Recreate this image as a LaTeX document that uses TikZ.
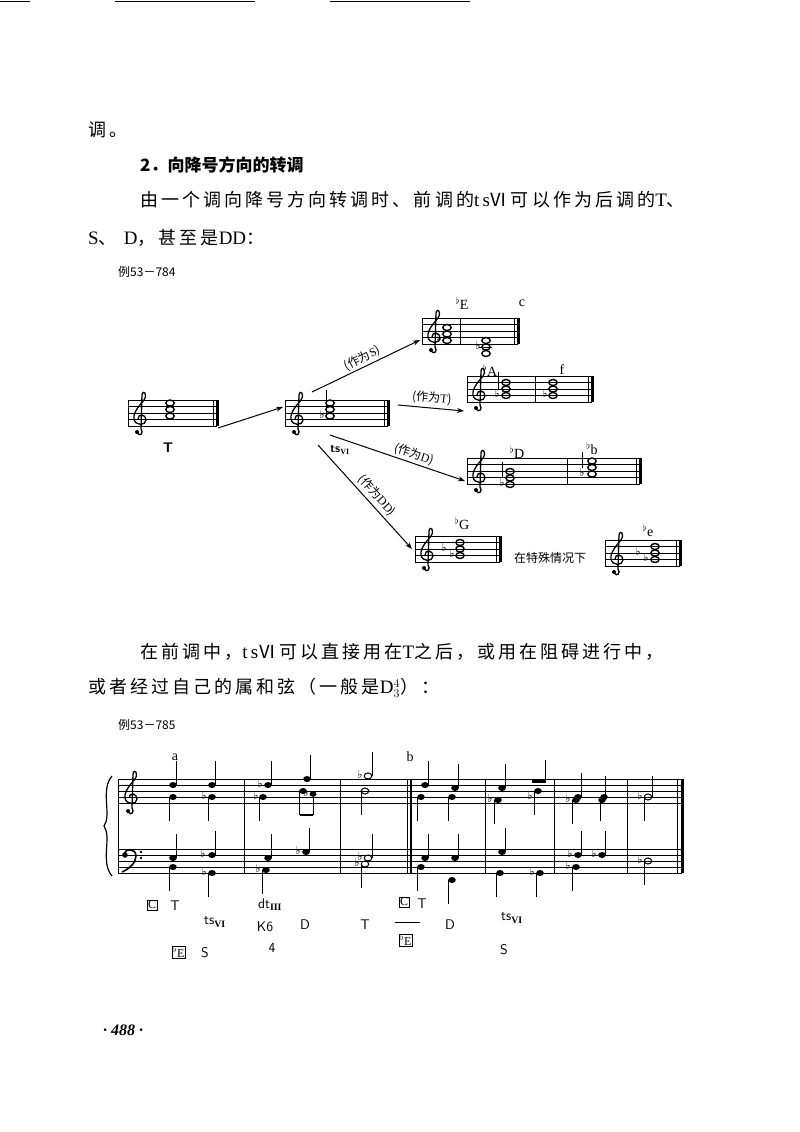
\documentclass[tikz,border=0pt]{standalone}
\usepackage{fontspec}
\setmainfont{Liberation Serif}
\newfontfamily\cjk{Noto Sans CJK SC}
\newfontfamily\cjkw[LetterSpace=17]{Noto Sans CJK SC}
\newfontfamily\dv{DejaVu Sans}
\usetikzlibrary{arrows.meta}
\newcommand\stf[3]{\foreach \i in {0,...,4}{\draw[line width=0.9pt] (#1,#3+\i*6.5) -- (#2,#3+\i*6.5);}
 \draw[line width=0.9pt] (#1,#3) -- (#1,#3+26);}
\newcommand\gcl[2]{\begin{scope}[shift={(#1,#2)}]\draw[line width=1.3pt] (-3,33) .. controls (0,37) and (4,33) .. (1,29) -- (2,-5) .. controls (3,-11) and (8,-6) .. (4,0) .. controls (0,5) and (-7,12) .. (-6,19) .. controls (-5,26) and (6,26) .. (6,20) .. controls (6,14) and (-2,13) .. (-2,19);\fill (-3,32) circle (2);\end{scope}}
\newcommand\fcl[2]{\begin{scope}[shift={(#1,#2)}]\fill (-3,6) circle (2.8);\draw[line width=1.6pt] (-4,5) .. controls (-3,-1) and (8,-1) .. (8,7) .. controls (8,14) and (1,20) .. (-6,23);\fill (13,3) circle (1.4);\fill (13,9) circle (1.4);\end{scope}}
\newcommand\wn[2]{\draw[line width=1.4pt] (#1,#2) ellipse (4.2 and 3);}
\newcommand\bl[3]{\draw[line width=1pt] (#1,#2) -- (#1,#3);}
\newcommand\ebl[3]{\draw[line width=1pt] (#1-4,#2) -- (#1-4,#3);\draw[line width=3pt] (#1,#2) -- (#1,#3);}
\newcommand\nup[2]{\fill (#1,#2) ellipse (3.8 and 3);\draw[line width=1pt] (#1+3.4,#2) -- (#1+3.4,#2-24);}
\newcommand\ndn[2]{\fill (#1,#2) ellipse (3.8 and 3);\draw[line width=1pt] (#1-3.4,#2) -- (#1-3.4,#2+24);}
\newcommand\fl[2]{\node[font=\dv\fontsize{11}{11}\selectfont,inner sep=0] at (#1,#2-2) {♭};}
\newcommand\lt[1]{{\rmfamily\fontsize{19}{20}\selectfont #1}}
\tikzset{txt/.style={anchor=west,inner sep=0,font=\cjkw\fontsize{18}{20}\selectfont},
 lab/.style={inner sep=0,font=\fontsize{14}{14}\selectfont},
 sl/.style={inner sep=0,font=\fontsize{14}{14}\sffamily\selectfont},
 arr/.style={line width=1pt,-{Stealth[length=7pt,width=5pt]}},
 pl/.style={inner sep=0,font=\cjk\fontsize{12}{12}\selectfont}}
\begin{document}
\begin{tikzpicture}[x=1pt,y=-1pt]
\useasboundingbox (0,0) rectangle (800,1132);
\draw[line width=1pt] (0,2)--(30,2) (115,2)--(255,2) (330,2)--(470,2);
\node[txt] (p0) at (88,130) {调。};
\node[txt,font=\cjk\bfseries\fontsize{17}{20}\selectfont] (h2) at (140,165) {2．向降号方向的转调};
\node[txt] (l1) at (140,200) {由一个调向降号方向转调时、前调的\lt{t\,s}Ⅵ可以作为后调的\lt{T}、};
\node[txt] (l2) at (88,238) {\lt{S}、 \lt{D}，甚至是\lt{DD}：};
\node[txt,font=\cjk\fontsize{12}{12}\selectfont] (e1) at (118,272) {例53－784};
% staves
\stf{128}{217}{400}\gcl{140}{400}\ebl{217}{400}{426}
\wn{170}{403}\wn{170}{409.5}\wn{170}{416}
\node[sl] (t0) at (168,448) {\bfseries T};
\stf{285}{388}{400}\gcl{297}{400}\ebl{388}{400}{426}
\wn{330}{416}\wn{330}{409.5}\wn{330}{403}\fl{322}{416}
\draw (326,416)--(326,390);
\node[lab,font=\sffamily\bfseries\fontsize{12}{12}\selectfont] (ts) at (340,450) {ts$_{\mathbf{VI}}$};
% E
\stf{422}{518}{318}\gcl{434}{318}\bl{460}{318}{344}\ebl{518}{318}{344}
\wn{447}{340.5}\wn{447}{334}\wn{447}{327.5}\fl{439}{340.5}
\wn{486}{347}\wn{486}{340.5}\wn{486}{353.5}\draw (479,347)--(492,347);\fl{478}{347}
\node[lab] at (462,303) {$^\flat$E};\node[lab] at (522,303) {c};
% Ab
\stf{467}{592}{376}\gcl{479}{376}\bl{535}{376}{402}\ebl{592}{376}{402}
\wn{506}{389}\wn{506}{395.5}\wn{506}{382.5}\fl{497}{395.5}\draw (498,390)--(498,372);
\wn{553}{382.5}\wn{553}{389}\wn{553}{395.5}\fl{545}{395.5}
\node[lab] at (490,370) {$^\flat$A};\node[lab] at (562,370) {f};
% Db
\stf{467}{640}{458}\gcl{479}{458}\bl{567}{458}{484}\ebl{640}{458}{484}
\wn{510}{478}\wn{510}{484.5}\wn{510}{471.5}\fl{502}{484.5}\draw (502,478)--(502,462);
\wn{592}{461}\wn{592}{467.5}\wn{592}{474}\fl{582}{474}\draw (582,468)--(582,452);
\node[lab] at (517,452) {$^\flat$D};\node[lab] at (592,448) {$^\flat$b};
% Gb
\stf{415}{500}{536}\gcl{427}{536}\ebl{500}{536}{562}
\wn{460}{555.5}\wn{460}{549}\wn{460}{542.5}\fl{452}{555.5}\fl{444}{549}
\node[lab] at (462,523) {$^\flat$G};
\node[pl] (sp) at (550,558) {在特殊情况下};
\stf{605}{680}{540}\gcl{617}{540}\ebl{680}{540}{566}
\wn{655}{559.5}\wn{655}{553}\wn{655}{546.5}\fl{646}{559.5}\fl{638}{553}
\node[lab] at (648,530) {$^\flat$e};
% arrows
\coordinate (a0) at (218,428);\coordinate (a1) at (283,407);
\draw[arr] (a0)--(a1);
\coordinate (b0) at (312,392);\coordinate (b1) at (420,340);
\draw[arr] (b0)--node[pl,sloped,above=2pt]{(作为{\rmfamily S})}(b1);
\coordinate (c0) at (398,405);\coordinate (c1) at (464,411);
\draw[arr] (c0)--node[pl,sloped,above=3pt]{(作为{\rmfamily T})}(c1);
\coordinate (d0) at (330,435);\coordinate (d1) at (465,481);
\draw[arr] (d0)--node[pl,sloped,above=2pt,pos=0.6]{(作为{\rmfamily D})}(d1);
\coordinate (f0) at (318,445);\coordinate (f1) at (412,549);
\draw[arr] (f0)--node[pl,sloped,above=3pt,pos=0.55]{(作为{\rmfamily DD})}(f1);
% second paragraph
\node[txt] (l3) at (140,652) {在前调中，\lt{t\,s}Ⅵ可以直接用在\lt{T}之后，或用在阻碍进行中，};
\node[txt] (l4) at (88,688) {或者经过自己的属和弦（一般是\lt{D}$^4_3$）：};
\node[txt,font=\cjk\fontsize{12}{12}\selectfont] (e2) at (118,725) {例53－785};
% grand staff
\foreach \i in {0,...,4}{\draw[line width=0.9pt] (118,779+\i*6)--(682,779+\i*6); \draw[line width=0.9pt] (118,849+\i*6)--(682,849+\i*6);}
\draw[line width=1pt] (118,779)--(118,873);
\draw[line width=1.2pt] (112,776) .. controls (100,790) and (112,815) .. (104,826) .. controls (112,837) and (100,862) .. (112,876);
\gcl{131}{779}\fcl{128}{849}
\foreach \x in {244,340,485,554,627}{\draw[line width=1pt] (\x,779)--(\x,873);}
\draw[line width=1pt] (407,779)--(407,873);\draw[line width=2.5pt] (411,779)--(411,873);
\draw[line width=1pt] (677,779)--(677,873);\draw[line width=3pt] (682,779)--(682,873);
\node[lab] at (175,757) {a};\node[lab] at (410,757) {b};
% chords
\nup{173}{785}\ndn{173}{797}\nup{173}{858}\ndn{173}{867}
\nup{212}{785}\ndn{212}{797}\fl{204}{797}\nup{212}{855}\fl{203}{855}\ndn{212}{873}\fl{204}{873}
\nup{268}{785}\fl{260}{785}\ndn{263}{797}\fl{256}{797}\nup{268}{858}\ndn{266}{870}\fl{258}{870}
\nup{307}{779}\ndn{303}{791}\draw[line width=2pt] (300,815)--(313,815);\draw (313,815)--(313,794);\fill (313,794) ellipse (3.5 and 2.8);\fl{306}{794}\nup{306}{852}\fl{298}{852}
\draw[line width=1pt] (368,776) ellipse (3.8 and 3);\draw (372,776)--(372,752);\fl{360}{776}
\draw[line width=1pt] (365,791) ellipse (3.8 and 3);\draw (361,791)--(361,815);
\draw[line width=1pt] (368,858) ellipse (3.8 and 3);\draw (372,858)--(372,834);\fl{360}{858}
\draw[line width=1pt] (365,864) ellipse (3.8 and 3);\draw (361,864)--(361,888);\fl{357}{864}
\nup{425}{785}\ndn{421}{797}\nup{425}{858}\ndn{421}{867}
\nup{455}{788}\ndn{452}{797}\nup{455}{858}\ndn{452}{880}
\nup{502}{788}\ndn{498}{800}\fl{490}{800}\nup{502}{852}\ndn{500}{873}
\ndn{538}{791}\fill (532,779) rectangle (546,783);\draw[line width=1pt] (545,783)--(545,760);\fl{530}{797}\ndn{540}{873}\fl{532}{873}
\nup{578}{797}\ndn{576}{800}\fl{568}{800}\nup{578}{855}\fl{570}{855}\ndn{576}{867}\fl{568}{867}
\nup{602}{800}\ndn{604}{797}\nup{602}{855}\fl{594}{855}
\draw[line width=1pt] (648,797) ellipse (3.8 and 3);\draw (644,797)--(644,821);\draw (652,797)--(652,776);\fl{640}{797}
\draw[line width=1pt] (648,861) ellipse (3.8 and 3);\draw (644,861)--(644,885);\fl{640}{861}
% function labels
\node[lab,draw,inner sep=1pt,font=\fontsize{12}{12}\selectfont] at (152,905) {C};\node[sl] at (175,906) {T};
\node[sl] at (215,922) {ts$_{\mathbf{VI}}$};
\node[lab,draw,inner sep=1pt,font=\fontsize{12}{12}\selectfont] at (179,952) {$^\flat$E};\node[sl] at (205,953) {S};
\node[sl] at (270,905) {dt$_{\mathbf{III}}$};
\node[sl] at (265,927) {K6};\node[sl] at (272,948) {4};
\node[sl] at (305,925) {D};\node[sl] at (365,925) {T};
\node[lab,draw,inner sep=1pt,font=\fontsize{12}{12}\selectfont] at (404,902) {C};\node[sl] at (422,904) {T};
\node[lab,draw,inner sep=1pt,font=\fontsize{12}{12}\selectfont] at (406,940) {$^\flat$E};
\draw (395,922)--(420,922);
\node[sl] at (450,925) {D};
\node[sl] at (512,918) {ts$_{\mathbf{VI}}$};\node[sl] at (504,950) {S};
\node[anchor=west,inner sep=0,font=\bfseries\itshape\fontsize{16}{16}\selectfont] at (103,1030) {· 488 ·};
\end{tikzpicture}
\end{document}
